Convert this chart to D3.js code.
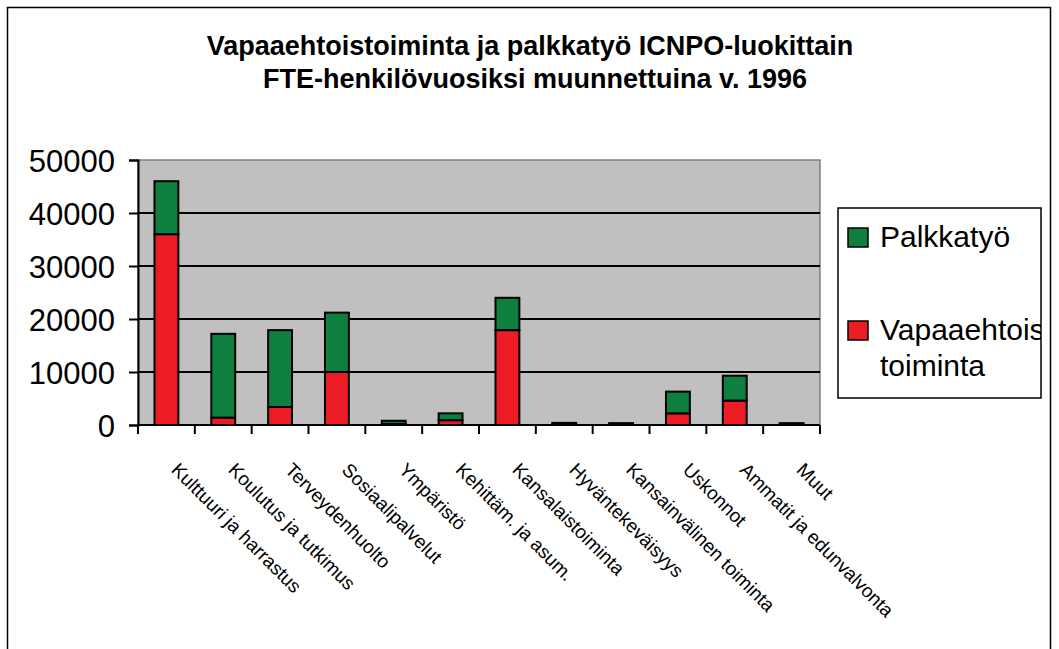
<!DOCTYPE html>
<html>
<head>
<meta charset="utf-8">
<script src="https://cdn.jsdelivr.net/npm/d3@7"></script>
<style>
  body { margin: 0; background: #fff; }
  text { font-family: "Liberation Sans", Arial, sans-serif; }
</style>
</head>
<body>
<div id="chart"></div>
<script>
// Data (FTE person-years)
const categories = [
  "Kulttuuri ja harrastus", "Koulutus ja tutkimus", "Terveydenhuolto",
  "Sosiaalipalvelut", "Ympäristö", "Kehittäm. ja asum.",
  "Kansalaistoiminta", "Hyväntekeväisyys", "Kansainvälinen toiminta",
  "Uskonnot", "Ammatit ja edunvalvonta", "Muut"
];
const vapaaehtois = [36000, 1400, 3400, 10000, 200, 900, 17900, 100, 100, 2200, 4600, 100];
const palkkatyo   = [10000, 15800, 14500, 11200, 600, 1300, 6100, 300, 250, 4100, 4700, 250];
const yTicks = [0, 10000, 20000, 30000, 40000, 50000];
const seriesKeys = ["Vapaaehtoistoiminta", "Palkkatyö"];
const seriesColors = ["#ed1c24", "#0e7f3e"];

const W = 1059, H = 649;
const plot = { left: 138, top: 160, right: 820, bottom: 425 };

const svg = d3.select("#chart").append("svg")
    .attr("width", W).attr("height", H);

// outer frame
svg.append("rect")
    .attr("x", 7.5).attr("y", 7.5)
    .attr("width", 1043).attr("height", 660)
    .attr("fill", "none").attr("stroke", "#000").attr("stroke-width", 1.5);

// title
svg.append("text")
    .attr("x", 530).attr("y", 55)
    .attr("text-anchor", "middle")
    .style("font-size", "27px").style("font-weight", "bold")
    .text("Vapaaehtoistoiminta ja palkkatyö ICNPO-luokittain");
svg.append("text")
    .attr("x", 535).attr("y", 88)
    .attr("text-anchor", "middle")
    .style("font-size", "27px").style("font-weight", "bold")
    .text("FTE-henkilövuosiksi muunnettuina v. 1996");

const x = d3.scaleBand()
    .domain(categories)
    .range([plot.left, plot.right])
    .padding(0);

const y = d3.scaleLinear()
    .domain([0, 50000])
    .range([plot.bottom, plot.top]);

// plot background
svg.append("rect")
    .attr("x", plot.left).attr("y", plot.top)
    .attr("width", plot.right - plot.left)
    .attr("height", plot.bottom - plot.top)
    .attr("fill", "#c0c0c0")
    .attr("stroke", "#808080").attr("stroke-width", 1.5);

// gridlines
svg.append("g")
    .selectAll("line")
    .data(yTicks.filter(d => d > 0 && d < 50000))
    .enter().append("line")
    .attr("x1", plot.left).attr("x2", plot.right)
    .attr("y1", d => y(d)).attr("y2", d => y(d))
    .attr("stroke", "#000").attr("stroke-width", 2);

// stacked bars
const table = categories.map((c, i) => ({
    cat: c, "Vapaaehtoistoiminta": vapaaehtois[i], "Palkkatyö": palkkatyo[i]
}));
const stacked = d3.stack().keys(seriesKeys)(table);
const barW = x.bandwidth() * 0.42;

svg.selectAll(".layer")
    .data(stacked)
    .enter().append("g")
    .attr("class", "layer")
    .attr("fill", (d, i) => seriesColors[i])
    .selectAll("rect")
    .data(d => d)
    .enter().append("rect")
    .attr("x", d => x(d.data.cat) + (x.bandwidth() - barW) / 2)
    .attr("width", barW)
    .attr("y", d => y(d[1]))
    .attr("height", d => y(d[0]) - y(d[1]))
    .attr("stroke", "#000").attr("stroke-width", 2);

// y axis
const yAxis = svg.append("g")
    .attr("transform", `translate(${plot.left},0)`)
    .call(d3.axisLeft(y).tickValues(yTicks).tickSize(9).tickPadding(14).tickFormat(d3.format("d")));
yAxis.select(".domain").attr("stroke", "#000").attr("stroke-width", 2);
yAxis.selectAll(".tick line").attr("stroke-width", 2);
yAxis.selectAll("text")
    .style("font-size", "31px").style("font-family", "Liberation Sans, Arial, sans-serif")
    .attr("fill", "#000").attr("dy", "0.36em");

// x axis: ticks at category boundaries
const xa = svg.append("g");
xa.append("line")
    .attr("x1", plot.left).attr("x2", plot.right)
    .attr("y1", plot.bottom).attr("y2", plot.bottom)
    .attr("stroke", "#000").attr("stroke-width", 2);
xa.selectAll(".xt")
    .data(categories.concat(["end"]))
    .enter().append("line")
    .attr("x1", (d, i) => plot.left + i * x.step())
    .attr("x2", (d, i) => plot.left + i * x.step())
    .attr("y1", plot.bottom).attr("y2", plot.bottom + 9)
    .attr("stroke", "#000").attr("stroke-width", 2);

xa.selectAll(".xl")
    .data(categories)
    .enter().append("text")
    .attr("transform", d => `translate(${x(d) + x.bandwidth() / 2 + 14},${plot.bottom + 36}) rotate(45)`)
    .attr("dy", "0.75em")
    .style("font-size", "19px")
    .text(d => d);

// legend
const lg = { x: 838, y: 208, w: 203, h: 190 };
svg.append("clipPath").attr("id", "lgclip")
    .append("rect").attr("x", lg.x).attr("y", lg.y).attr("width", lg.w).attr("height", lg.h);
svg.append("rect")
    .attr("x", lg.x).attr("y", lg.y).attr("width", lg.w).attr("height", lg.h)
    .attr("fill", "#fff").attr("stroke", "#000").attr("stroke-width", 1.5);

const legendItems = [
    { color: seriesColors[1], lines: ["Palkkatyö"], y: 228 },
    { color: seriesColors[0], lines: ["Vapaaehtois", "toiminta"], y: 321 }
];
const lgG = svg.append("g").attr("clip-path", "url(#lgclip)");
legendItems.forEach(it => {
    lgG.append("rect")
        .attr("x", 848).attr("y", it.y).attr("width", 20).attr("height", 19)
        .attr("fill", it.color).attr("stroke", "#000").attr("stroke-width", 1.5);
    const t = lgG.append("text")
        .attr("x", 880).attr("y", it.y + 19)
        .style("font-size", "30px");
    it.lines.forEach((ln, j) => {
        t.append("tspan").attr("x", 880).attr("dy", j === 0 ? 0 : 36).text(ln);
    });
});
</script>
</body>
</html>
